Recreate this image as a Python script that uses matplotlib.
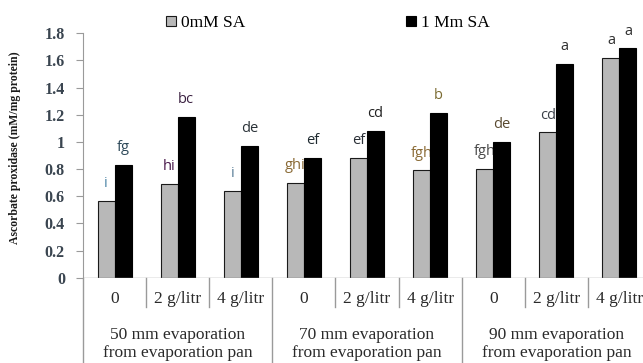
import matplotlib
matplotlib.use("Agg")
import matplotlib.pyplot as plt
from matplotlib.lines import Line2D
import numpy as np

# ---- data ----
sub_labels = ["0", "2 g/litr", "4 g/litr"] * 3
group_labels = ["50 mm evaporation\nfrom evaporation pan",
                "70 mm evaporation\nfrom evaporation pan",
                "90 mm evaporation\nfrom evaporation pan"]
series_names = ["0mM SA", "1 Mm SA"]
sa0 = [0.565, 0.69, 0.64, 0.70, 0.88, 0.79, 0.80, 1.07, 1.62]
sa1 = [0.83, 1.185, 0.97, 0.88, 1.08, 1.215, 1.00, 1.575, 1.69]
letters0 = ["i", "hi", "i", "ghi", "ef", "fgh", "fgh", "cd", "a"]
letters1 = ["fg", "bc", "de", "ef", "cd", "b", "de", "a", "a"]
letter_colors0 = ["#4f86a8", "#4a1a4c", "#5a7f98", "#8a6a35", "#2a2f36", "#8a6a35", "#4a4a4a", "#3a4048", "#303030"]
letter_colors1 = ["#2f4a5a", "#3a2040", "#2a3238", "#1f2a30", "#202020", "#7a6a30", "#5a4a30", "#303030", "#303030"]
yticks = [0, 0.2, 0.4, 0.6, 0.8, 1, 1.2, 1.4, 1.6, 1.8]
ytick_labels = ["0", "0.2", "0.4", "0.6", "0.8", "1", "1.2", "1.4", "1.6", "1.8"]
ylabel = "Ascorbate proxidase (mM/mg protein)"

W, H = 643, 363
fig = plt.figure(figsize=(W / 100, H / 100), dpi=100)
ax_left, ax_right = 83, 651
ax_top, ax_bot = 33.3, 277.7
ax = fig.add_axes([ax_left / W, 1 - ax_bot / H, (ax_right - ax_left) / W, (ax_bot - ax_top) / H])

serif = ["Liberation Serif", "DejaVu Serif"]
sans = ["Open Sans", "DejaVu Sans"]

n = len(sa0)
x = np.arange(n) + 0.5
bw = 17 / 63.1
b0 = ax.bar(x - bw / 2, sa0, bw, color="#b8b8b8", edgecolor="#1a1a1a", linewidth=0.8, zorder=3, label=series_names[0])
b1 = ax.bar(x + bw / 2, sa1, bw, color="black", edgecolor="black", linewidth=0.8, zorder=3, label=series_names[1])

for xi, v, t, c in zip(x - bw / 2, sa0, letters0, letter_colors0):
    ax.annotate(t, (xi, v), xytext=(0, 7), textcoords="offset points", ha="center", va="bottom",
                fontsize=10.5, family=sans, color=c, zorder=2)
for xi, v, t, c in zip(x + bw / 2, sa1, letters1, letter_colors1):
    ax.annotate(t, (xi, v), xytext=(0, 7), textcoords="offset points", ha="center", va="bottom",
                fontsize=10.5, family=sans, color=c, zorder=2)

ax.set_xlim(0, n)
ax.set_ylim(0, 1.8)
ax.set_yticks(yticks)
ax.set_yticklabels(ytick_labels, family=serif, fontsize=11.5, fontweight="bold", color="#3a4550")
ax.set_xticks([])
for s in ["top", "right", "bottom"]:
    ax.spines[s].set_visible(False)
ax.spines["left"].set_color("#9a9a9a")
ax.tick_params(axis="y", length=5, color="#9a9a9a", pad=8)
ax.axhline(0, color="#9a9a9a", linewidth=1.0, zorder=4)

# category table below the axis
trans = ax.get_xaxis_transform()
for i in range(n + 1):
    if i % 3 == 0:
        y_end = -(H - ax_bot) / (ax_bot - ax_top)
    else:
        y_end = -29 / (ax_bot - ax_top)
    ax.add_line(Line2D([i, i], [0, y_end], transform=trans, color="#9a9a9a", linewidth=1.0, clip_on=False))

for xi, lab in zip(x, sub_labels):
    ax.text(xi, -(299 - ax_bot) / (ax_bot - ax_top), lab, transform=trans, ha="center", va="center",
            family=serif, fontsize=12.5, color="#2a2a2a")
for gi, lab in enumerate(group_labels):
    ax.text(3 * gi + 1.5, -(344 - ax_bot) / (ax_bot - ax_top), lab, transform=trans, ha="center", va="center",
            family=serif, fontsize=12.5, color="#2a2a2a", linespacing=1.1)

fig.text(15 / W, 1 - 148 / H, ylabel, rotation=90, ha="center", va="center", family=serif,
         fontsize=8.5, fontweight="bold", color="#1a1a1a")

leg = fig.legend(handles=[b0, b1], labels=series_names, loc="center", bbox_to_anchor=(328 / W, 1 - 23 / H),
                 ncol=2, frameon=False, handlelength=0.55, handleheight=0.55, handletextpad=0.3,
                 columnspacing=9.3, prop={"family": serif, "size": 12.5})

fig.savefig("out.png", dpi=100)
